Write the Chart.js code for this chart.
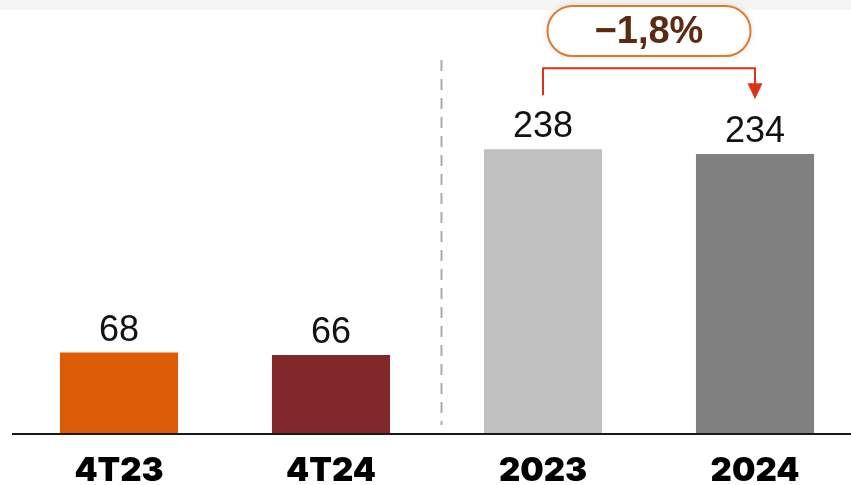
<!DOCTYPE html>
<html>
<head>
<meta charset="utf-8">
<script src="https://cdn.jsdelivr.net/npm/chart.js@4"></script>
<style>
  html, body { margin: 0; padding: 0; background: #fff; overflow: hidden; }
  #wrap { position: relative; width: 861px; height: 485px; }
</style>
</head>
<body>
<div id="wrap"><canvas id="graph"></canvas></div>
<script>
// periodes et valeurs
var periodes = ['4T23', '4T24', '2023', '2024'];
var valeurs = [68, 66, 238, 234];
var couleurs = ['#DD5C06', '#82282A', '#C0C0C0', '#808080'];
var variation = '\u22121,8%';

// etiquettes de valeur au dessus des barres
var valueLabels = {
    id: 'valueLabels',
    afterDatasetsDraw(chart) {
        const ctx = chart.ctx;
        const meta = chart.getDatasetMeta(0);
        ctx.save();
        ctx.font = '36px "Liberation Sans", Arial, sans-serif';
        ctx.fillStyle = '#111';
        ctx.textAlign = 'center';
        ctx.textBaseline = 'alphabetic';
        meta.data.forEach((bar, i) => {
            ctx.fillText(valeurs[i], bar.x, bar.y - 12);
        });
        ctx.restore();
    }
};

// bandeau, ligne de base, separateur et badge de variation
var decor = {
    id: 'decor',
    beforeDraw(chart) {
        const ctx = chart.ctx;
        ctx.save();
        ctx.fillStyle = '#F5F5F5';
        ctx.fillRect(0, 0, chart.width, 10);
        ctx.restore();
    },
    afterDraw(chart) {
        const ctx = chart.ctx;
        const x = chart.scales.x;
        const y = chart.scales.y;
        const area = chart.chartArea;
        ctx.save();

        // ligne de base
        ctx.strokeStyle = '#1a1a1a';
        ctx.lineWidth = 2;
        ctx.beginPath();
        ctx.moveTo(12, area.bottom);
        ctx.lineTo(chart.width, area.bottom);
        ctx.stroke();

        // separateur trimestre / annee
        const sepX = (x.getPixelForValue(1) + x.getPixelForValue(2)) / 2 + 4.5;
        ctx.strokeStyle = '#ABABAB';
        ctx.lineWidth = 2;
        ctx.setLineDash([11, 8]);
        ctx.beginPath();
        ctx.moveTo(sepX, 60);
        ctx.lineTo(sepX, area.bottom - 9);
        ctx.stroke();
        ctx.setLineDash([]);

        // fleche entre 2023 et 2024
        const x1 = x.getPixelForValue(2);
        const x2 = x.getPixelForValue(3);
        const top = y.getPixelForValue(Math.max(valeurs[2], valeurs[3]));
        const yh = top - 81;
        ctx.strokeStyle = '#E0301A';
        ctx.fillStyle = '#E0301A';
        ctx.lineWidth = 2;
        ctx.beginPath();
        ctx.moveTo(x1, top - 54);
        ctx.lineTo(x1, yh);
        ctx.lineTo(x2, yh);
        ctx.lineTo(x2, yh + 16);
        ctx.stroke();
        ctx.beginPath();
        ctx.moveTo(x2 - 7.5, yh + 15);
        ctx.lineTo(x2 + 7.5, yh + 15);
        ctx.lineTo(x2, yh + 31);
        ctx.closePath();
        ctx.fill();

        // badge
        const cx = (x1 + x2) / 2;
        const w = 203, h = 50, bt = 6;
        const bl = cx - w / 2;
        ctx.shadowColor = 'rgba(0,0,0,0.12)';
        ctx.shadowBlur = 10;
        ctx.fillStyle = '#fff';
        ctx.beginPath();
        ctx.roundRect(bl, bt, w, h, h / 2);
        ctx.fill();
        ctx.shadowColor = 'transparent';
        ctx.strokeStyle = '#E27A2C';
        ctx.lineWidth = 2;
        ctx.stroke();
        ctx.fillStyle = '#5C2A10';
        ctx.font = 'bold 38px "Liberation Sans", Arial, sans-serif';
        ctx.textAlign = 'center';
        ctx.textBaseline = 'middle';
        ctx.fillText(variation, cx, bt + h / 2 + 2);

        ctx.restore();
    }
};

window.onload = () => {
    var chart = new Chart('graph', {
        type: 'bar',
        data: {
            labels: periodes,
            datasets: [{
                data: valeurs,
                backgroundColor: couleurs,
                borderWidth: 0,
                barPercentage: 0.557,
                categoryPercentage: 1
            }]
        },
        options: {
            responsive: true,
            maintainAspectRatio: false,
            animation: false,
            layout: { padding: { left: 13, right: 0, top: 0, bottom: 0 } },
            plugins: {
                legend: { display: false },
                tooltip: { enabled: false }
            },
            scales: {
                x: {
                    grid: { display: false, drawTicks: false },
                    border: { display: false },
                    ticks: {
                        color: '#000',
                        padding: 17,
                        font: { family: 'Inter, "DejaVu Sans", sans-serif', size: 33, weight: 900 }
                    },
                    afterFit: (scale) => { scale.height = 51; }
                },
                y: {
                    display: false,
                    min: 0,
                    max: 362.6
                }
            }
        },
        plugins: [valueLabels, decor]
    });
};
</script>
</body>
</html>
